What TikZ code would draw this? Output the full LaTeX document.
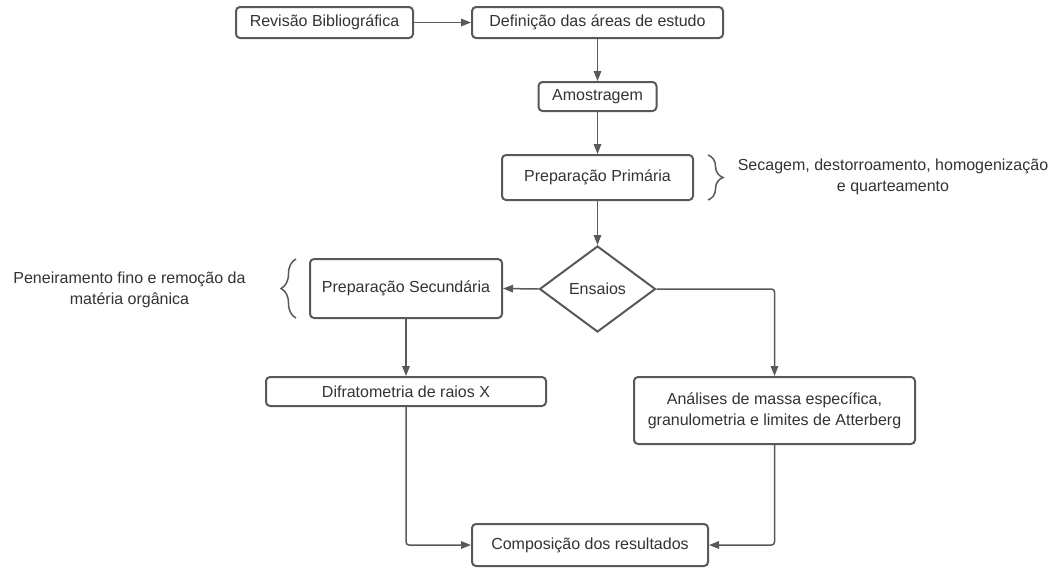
\documentclass[tikz,border=0pt]{standalone}
\usepackage{fontspec}
\setmainfont{Liberation Sans}
\usetikzlibrary{shapes.geometric,arrows.meta,decorations.pathreplacing}
\definecolor{ink}{HTML}{333333}
\definecolor{edge}{HTML}{595959}

\begin{document}
\begin{tikzpicture}[x=1pt,y=-1pt,
  font=\fontsize{16}{21}\selectfont, text=ink,
  box/.style={draw=edge, line width=2pt, rounded corners=4pt, inner sep=0pt, fill=white, align=center},
  decision/.style={diamond, draw=edge, line width=2pt, inner sep=0pt, fill=white,
                   minimum width=116pt, minimum height=86pt},
  link/.style={draw=edge, line width=1.5pt, rounded corners=3pt,
               -{Triangle[length=10pt,width=7.5pt]}},
  curly/.style={draw=edge, line width=1.5pt, decorate,
                decoration={brace, amplitude=15pt}},
  note/.style={align=center, inner sep=0pt}]

% canvas
\fill[white] (0,0) rectangle (1062,568);
\path[use as bounding box] (0,0) rectangle (1062,568);

% process steps
\node[box, minimum width=177pt, minimum height=31pt] (rev) at (324.5,22.5) {Revisão Bibliográfica};
\node[box, minimum width=251pt, minimum height=31pt] (def) at (597.5,22.5) {Definição das áreas de estudo};
\node[box, minimum width=118pt, minimum height=29pt] (amo) at (597.5,96.5) {Amostragem};
\node[box, minimum width=191pt, minimum height=45pt] (prim) at (597.5,177.5) {Preparação Primária};
\node[decision] (ens) at (597.5,289) {Ensaios};
\node[box, minimum width=192pt, minimum height=59pt] (sec) at (406,288.5) {Preparação Secundária};
\node[box, minimum width=280pt, minimum height=29pt] (dif) at (406,391.5) {Difratometria de raios X};
\node[box, minimum width=281pt, minimum height=67pt] (ana) at (774.5,410.5)
  {Análises de massa específica,\\granulometria e limites de Atterberg};
\node[box, minimum width=236pt, minimum height=42pt] (com) at (590,545) {Composição dos resultados};

% side notes
\node[note] (secnote) at (893,177) {Secagem, destorroamento, homogenização\\e quarteamento};
\node[note] (pennote) at (129.5,290) {Peneiramento fino e remoção da\\matéria orgânica};
\coordinate (pbtop) at (708,155);
\coordinate (pbbot) at (708,200);
\coordinate (sbtop) at (296,259);
\coordinate (sbbot) at (296,318);
\draw[curly] (pbtop) -- (pbbot);
\draw[curly] (sbbot) -- (sbtop);

% connectors
\draw[link] (rev.east) -- (def.west);
\draw[link] (def.south) -- (amo.north);
\draw[link] (amo.south) -- (prim.north);
\draw[link] (prim.south) -- (ens.north);
\draw[link] (ens.west) -- (sec.east);
\draw[link] (ens.east) -| (ana.north);
\draw[link] (sec.south) -- (dif.north);
\draw[link] (dif.south) |- (com.west);
\draw[link] (ana.south) |- (com.east);
\end{tikzpicture}
\end{document}
